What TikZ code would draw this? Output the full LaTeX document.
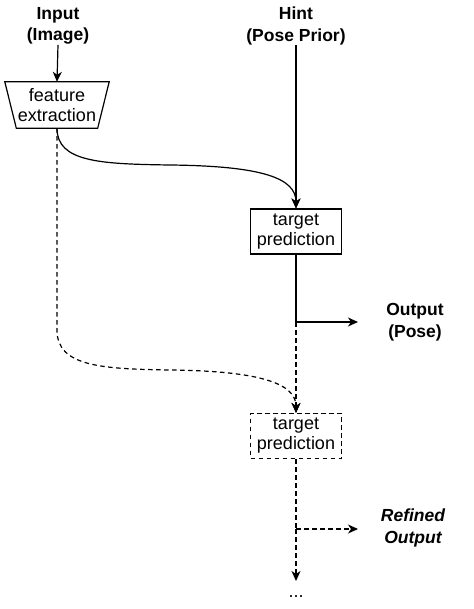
\documentclass[tikz,border=0pt]{standalone}
\usepackage{fontspec}
\setmainfont{Liberation Sans}
\usetikzlibrary{arrows.meta}
\begin{document}
\begin{tikzpicture}[x=1pt,y=-1pt,
 lbl/.style={font=\fontsize{17.5}{21.5}\selectfont\bfseries, align=center, inner sep=0pt},
 txt/.style={font=\fontsize{18}{20}\selectfont, align=center, inner sep=0pt},
 ln/.style={line width=1.2pt},
 box/.style={draw, ln, minimum width=91pt, minimum height=45pt, txt},
 arr/.style={ln, -{Stealth[length=10pt,width=9pt,inset=3pt]}},
 dsh/.style={dash pattern=on 4.5pt off 3.5pt}]
\useasboundingbox (0,0) rectangle (473,609);
\node[lbl] (in) at (58,26) {Input\\(Image)};
\node[lbl] (hint) at (296,26) {Hint\\(Pose Prior)};
\node[txt, minimum width=104pt, minimum height=46pt] (fe) at (57,105) {feature\\extraction};
\draw[ln] (fe.north west) -- (fe.north east) -- ([xshift=-11.5pt]fe.south east) -- ([xshift=11.5pt]fe.south west) -- cycle;
\node[box] (tp1) at (296,231.5) {target\\prediction};
\node[box, dsh] (tp2) at (296,436) {target\\prediction};
\node[lbl] (out) at (415,322) {Output\\(Pose)};
\node[lbl, font=\fontsize{17.5}{21.5}\selectfont\bfseries\itshape] (ref) at (413,528) {Refined\\Output};
\node[txt] (dots) at (296,597) {...};
\coordinate (j1) at (296,322);
\coordinate (j2) at (296,529);
\coordinate (e1) at (358,322);
\coordinate (e2) at (358,529);
\coordinate (e3) at (296,581);
\coordinate (c1) at (57,330);
\coordinate (m1) at (170,165);
\coordinate (m2) at (170,370);
\draw[arr] (in.south) -- (fe.north);
\draw[arr] (hint.south) -- (tp1.north);
\draw[arr] (fe.south) .. controls (57,162) and (100,164) .. (m1) .. controls (262,166) and (296,178) .. (tp1.north);
\draw[ln] (tp1.south) -- (j1);
\draw[arr] (j1) -- (e1);
\draw[arr, dsh] (j1) -- (tp2.north);
\draw[arr, dsh] (fe.south) -- (c1) .. controls (57,366) and (100,369) .. (m2) .. controls (262,371) and (296,384) .. (tp2.north);
\draw[ln, dsh] (tp2.south) -- (j2);
\draw[arr, dsh] (j2) -- (e2);
\draw[arr, dsh] (j2) -- (e3);
\end{tikzpicture}
\end{document}
